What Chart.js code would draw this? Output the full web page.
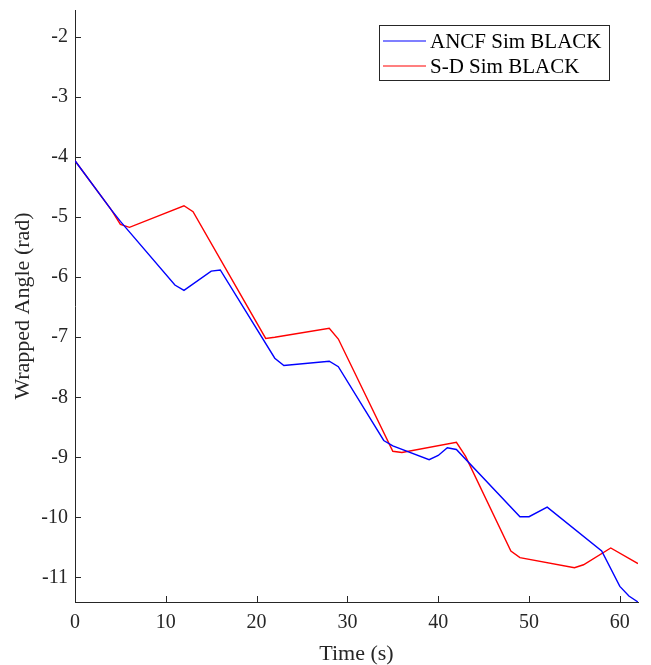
<!DOCTYPE html>
<html><head><meta charset="utf-8">
<script src="https://cdn.jsdelivr.net/npm/chart.js@4/dist/chart.umd.min.js"></script>
<style>html,body{margin:0;padding:0;background:#fff;}canvas{display:block;}</style>
</head><body>
<canvas id="c" width="651" height="665"></canvas>
<script>
const ancfTime  = [0, 4, 5, 11, 12, 15, 16, 22, 23, 28, 29, 34, 35, 39, 40, 41, 42, 49, 50, 52, 58, 60, 61, 62];
const ancfAngle = [-4.06, -4.88, -5.07, -6.13, -6.22, -5.90, -5.88, -7.35, -7.47, -7.40, -7.49, -8.72, -8.81, -9.04, -8.97, -8.84, -8.87, -9.99, -9.99, -9.83, -10.56, -11.15, -11.31, -11.41];
const sdTime    = [0, 4, 5, 6, 12, 13, 21, 22, 28, 29, 35, 36, 42, 43, 48, 49, 55, 56, 59, 62];
const sdAngle   = [-4.06, -4.88, -5.12, -5.17, -4.81, -4.91, -7.02, -7.00, -6.85, -7.03, -8.90, -8.92, -8.75, -8.98, -10.56, -10.67, -10.84, -10.79, -10.51, -10.77];
const xTicks = [0, 10, 20, 30, 40, 50, 60];
const yTicks = [-11, -10, -9, -8, -7, -6, -5, -4, -3, -2];
const seriesLabels = ['ANCF Sim BLACK', 'S-D Sim BLACK'];
const seriesColors = ['rgb(0,0,255)', 'rgb(255,0,0)'];
const xTitle = 'Time (s)';
const yTitle = 'Wrapped Angle (rad)';

const toPts = (t, v) => t.map((x, i) => ({x: x, y: v[i]}));
const FONT = "'Liberation Serif', 'Times New Roman', serif";
const INK = '#262626';

const inwardTicks = {
  id: 'inwardTicks',
  afterDraw(chart) {
    const {ctx, chartArea: a, scales: {x, y}} = chart;
    ctx.save();
    ctx.strokeStyle = INK; ctx.lineWidth = 1;
    ctx.beginPath();
    xTicks.forEach(v => { const p = Math.round(x.getPixelForValue(v)) + 0.5; ctx.moveTo(p, a.bottom); ctx.lineTo(p, a.bottom - 6); });
    yTicks.forEach(v => { const p = Math.round(y.getPixelForValue(v)) + 0.5; ctx.moveTo(a.left, p); ctx.lineTo(a.left + 6, p); });
    ctx.stroke();
    // legend box
    const bx = 379.5, by = 25.5, bw = 230, bh = 55;
    ctx.fillStyle = '#fff'; ctx.fillRect(bx, by, bw, bh);
    ctx.strokeStyle = INK; ctx.lineWidth = 1; ctx.strokeRect(bx, by, bw, bh);
    ctx.font = '21px ' + FONT; ctx.textBaseline = 'middle'; ctx.fillStyle = '#000';
    chart.data.datasets.forEach((ds, i) => {
      const ry = 41 + i * 25;
      ctx.strokeStyle = ds.borderColor; ctx.lineWidth = 1.2;
      ctx.beginPath(); ctx.moveTo(383, ry); ctx.lineTo(426, ry); ctx.stroke();
      ctx.fillText(ds.label, 430, ry + 1);
    });
    ctx.restore();
  }
};

new Chart(document.getElementById('c'), {
  type: 'line',
  data: {
    datasets: [
      {label: seriesLabels[0], data: toPts(ancfTime, ancfAngle), borderColor: seriesColors[0], borderWidth: 1.4, pointRadius: 0, tension: 0, fill: false},
      {label: seriesLabels[1], data: toPts(sdTime, sdAngle), borderColor: seriesColors[1], borderWidth: 1.4, pointRadius: 0, tension: 0, fill: false}
    ]
  },
  options: {
    responsive: false, animation: false, devicePixelRatio: 1,
    layout: {padding: {top: 10, right: 13, left: 0, bottom: 0}},
    plugins: {legend: {display: false}, tooltip: {enabled: false}},
    scales: {
      x: {
        type: 'linear', min: 0, max: 62,
        afterBuildTicks: s => { s.ticks = xTicks.map(v => ({value: v})); },
        afterFit: s => { s.height = 63; s.paddingLeft = 0; s.paddingRight = 0; },
        grid: {display: true, drawOnChartArea: false, drawTicks: false},
        border: {display: true, color: INK, width: 1},
        ticks: {color: INK, font: {family: FONT, size: 20}, padding: 9, maxRotation: 0},
        title: {display: true, text: xTitle, color: INK, font: {family: FONT, size: 22, lineHeight: 1}, padding: {top: 0, bottom: 0}}
      },
      y: {
        type: 'linear', min: -11.41, max: -1.55,
        afterBuildTicks: s => { s.ticks = yTicks.map(v => ({value: v})); },
        afterFit: s => { s.width = 75; s.paddingTop = 0; s.paddingBottom = 0; },
        grid: {display: true, drawOnChartArea: false, drawTicks: false},
        border: {display: true, color: INK, width: 1},
        ticks: {color: INK, font: {family: FONT, size: 20}, padding: 7},
        title: {display: true, text: yTitle, color: INK, font: {family: FONT, size: 22, lineHeight: 1}, padding: {top: 12, bottom: 0}}
      }
    }
  },
  plugins: [inwardTicks]
});
</script>
</body></html>
